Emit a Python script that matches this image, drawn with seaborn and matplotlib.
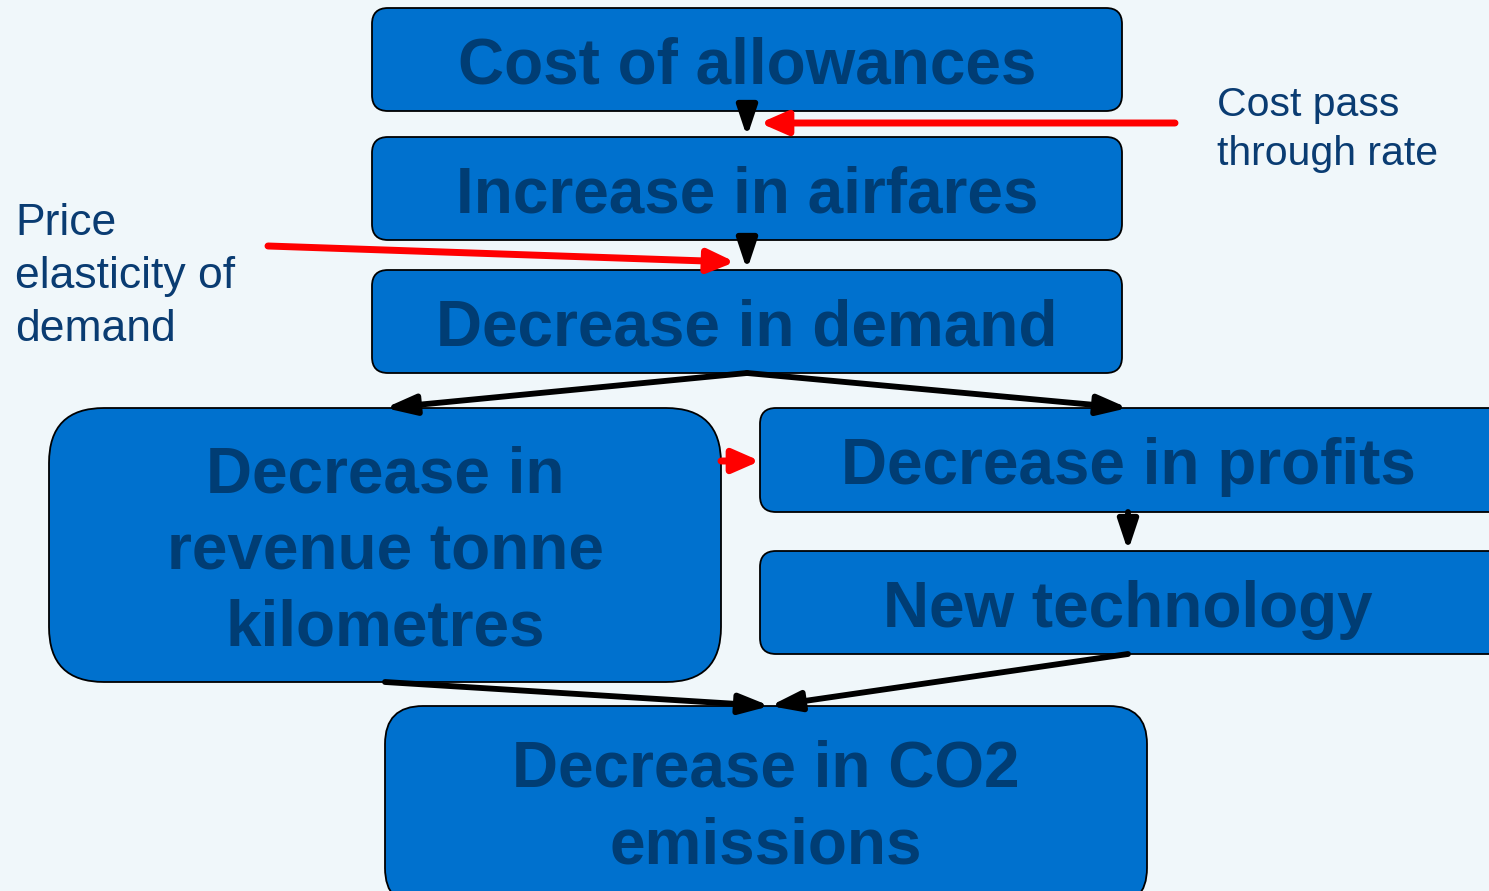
import matplotlib
matplotlib.use("Agg")
import matplotlib.pyplot as plt
import seaborn as sns
from matplotlib.patches import FancyBboxPatch

sns.set_theme(style="white")
plt.rcParams['font.family'] = ['Liberation Sans Narrow', 'Liberation Sans', 'DejaVu Sans']

# box labels and their frames (left, top, width, height, corner radius) in pixels
labels = ["Cost of allowances", "Increase in airfares", "Decrease in demand",
          "Decrease in\nrevenue tonne\nkilometres", "Decrease in profits",
          "New technology", "Decrease in CO2\nemissions"]
frames = [(372, 8, 750, 103, 16), (372, 137, 750, 103, 16), (372, 270, 750, 103, 16),
          (49, 408, 672, 274, 55), (760, 408, 745, 104, 16), (760, 551, 745, 103, 16),
          (385, 706, 762, 200, 38)]

# black arrows (start, end)
black_links = [((747, 111), (747, 137)), ((747, 240), (747, 270)),
               ((747, 373), (385, 408)), ((747, 373), (1128, 408)),
               ((1128, 512), (1128, 551)),
               ((385, 682), (770, 706)), ((1128, 654), (770, 706))]
# red arrows (start, end)
red_links = [((1175, 123), (760, 123)), ((268, 246), (735, 262)), ((721, 461), (760, 461))]

notes = ["Cost pass\nthrough rate", "Price\nelasticity of\ndemand"]
note_pos = [(1217, 86), (15, 203)]
note_size = [29.5, 32]

bg = "#F0F7FA"
fill = "#0071CE"
txt = "#003D74"
note_col = "#0A3C72"

fig = plt.figure(figsize=(14.89, 8.91), dpi=100)
fig.patch.set_facecolor(bg)
ax = fig.add_axes([0, 0, 1, 1])
ax.set_facecolor(bg)
ax.set_xlim(0, 1489)
ax.set_ylim(891, 0)
ax.axis("off")

for lab, (x, y, w, h, r) in zip(labels, frames):
    ax.add_patch(FancyBboxPatch((x, y), w, h, boxstyle=f"round,pad=0,rounding_size={r}",
                                fc=fill, ec="black", lw=1.3, zorder=2))
    cx = x + w / 2 if x < 700 else 1128
    cy = 801 if lab.startswith("Decrease in CO2") else y + h / 2
    ax.text(cx, cy + 7, lab, ha="center", va="center", fontsize=46, fontweight="bold",
            color=txt, linespacing=1.36, zorder=3)

for (s, e) in black_links:
    ax.annotate("", xy=e, xytext=s,
                arrowprops=dict(arrowstyle="-|>,head_length=0.9,head_width=0.3", lw=4.2,
                                color="black", shrinkA=0, shrinkB=0, mutation_scale=20),
                zorder=4)
for (s, e) in red_links:
    ax.annotate("", xy=e, xytext=s,
                arrowprops=dict(arrowstyle="-|>,head_length=0.8,head_width=0.35", lw=5,
                                color="#FF0000", shrinkA=0, shrinkB=0, mutation_scale=20),
                zorder=4)

for n, (x, y), fs in zip(notes, note_pos, note_size):
    ax.text(x, y, n, ha="left", va="top", fontsize=fs, color=note_col,
            family=["Liberation Sans", "DejaVu Sans"], linespacing=1.38)

fig.savefig("out.png", dpi=100, facecolor=bg)
